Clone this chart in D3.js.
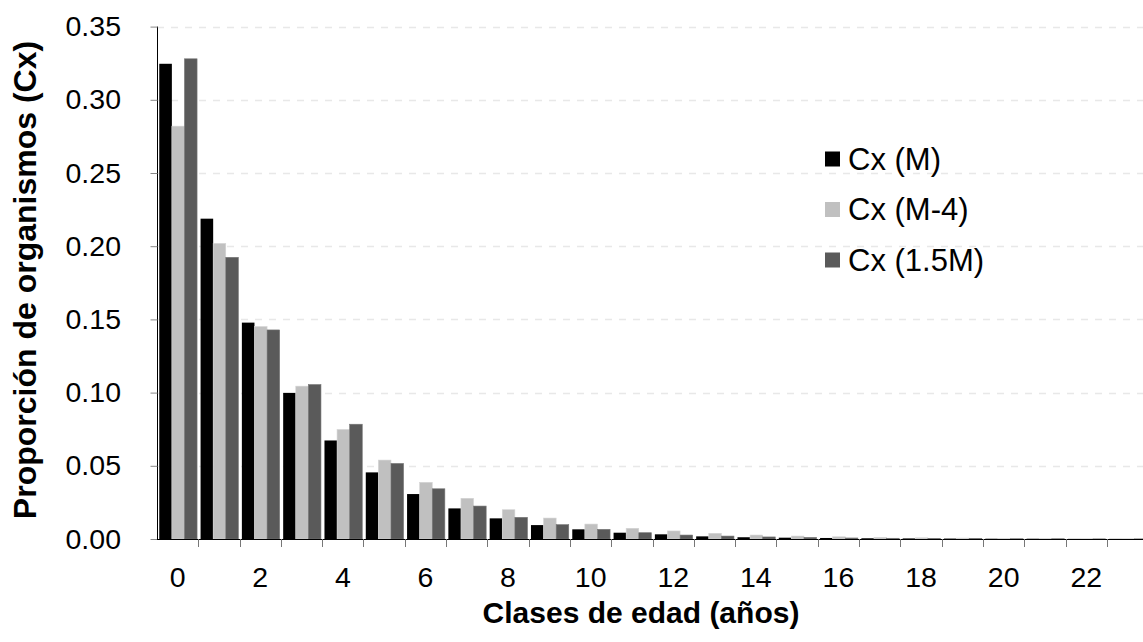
<!DOCTYPE html>
<html><head><meta charset="utf-8">
<script src="https://cdn.jsdelivr.net/npm/d3@7"></script>
<style>body{margin:0;background:#fff}svg{display:block;font-family:Arial,"Liberation Sans",sans-serif}</style>
</head><body>
<svg id="c" width="1143" height="642"></svg>
<script>
const categories = d3.range(0, 24).map(String);
const xTickLabels = ["0","2","4","6","8","10","12","14","16","18","20","22"];
const yTicks = [0,0.05,0.10,0.15,0.20,0.25,0.30,0.35];
const seriesNames = ["Cx (M)","Cx (M-4)","Cx (1.5M)"];
const seriesColors = ["#000000","#c0c0c0","#5a5a5a"];
const cxM    = [0.3246,0.2188,0.1478,0.0998,0.0673,0.0455,0.0307,0.0209,0.0141,0.0095,0.0066,0.0043,0.0032,0.0018,0.0012,0.0009,0.0007,0.0005,0.0004,0.0003,0.0002,0.0002,0.0001,0.0001];
const cxM4   = [0.2820,0.2019,0.1451,0.1044,0.0748,0.0539,0.0387,0.0278,0.0200,0.0143,0.0102,0.0073,0.0055,0.0039,0.0027,0.0020,0.0015,0.0011,0.0008,0.0006,0.0004,0.0003,0.0002,0.0002];
const cx15M  = [0.3280,0.1924,0.1428,0.1055,0.0784,0.0516,0.0343,0.0225,0.0148,0.0098,0.0066,0.0043,0.0027,0.0020,0.0014,0.0011,0.0007,0.0005,0.0004,0.0003,0.0002,0.0002,0.0001,0.0001];
const series = [cxM, cxM4, cx15M];

const svg = d3.select("#c");
const mLeft = 157, mTop = 26.6, mBottom = 539;
const bandW = 41.3;
const x = d3.scaleBand().domain(categories).range([mLeft, mLeft + bandW*categories.length]).padding(0);
const y = d3.scaleLinear().domain([0,0.35]).range([mBottom, mTop]);

// gridlines
svg.append("g").selectAll("line").data(yTicks.filter(d=>d>0)).join("line")
  .attr("x1", mLeft).attr("x2", 1143)
  .attr("y1", d=>Math.round(y(d))+0.5).attr("y2", d=>Math.round(y(d))+0.5)
  .attr("stroke", "#e8e8e8").attr("stroke-width", 1.5).attr("stroke-dasharray", "7,7");

// bars
const inner = x.bandwidth();
const barW = inner*0.305, off = inner*0.055;
series.forEach((vals, si) => {
  svg.append("g").selectAll("rect").data(vals).join("rect")
    .attr("x", (d,i) => x(categories[i]) + off + si*barW)
    .attr("y", d => y(d))
    .attr("width", barW)
    .attr("height", d => mBottom - y(d))
    .attr("fill", seriesColors[si])
    .attr("stroke", si===0 ? "none" : (si===1 ? "#d4d4d4" : "#767676"))
    .attr("stroke-width", 0.6);
});

// y axis
const ya = svg.append("g").attr("transform", `translate(${mLeft},0)`)
  .call(d3.axisLeft(y).tickValues(yTicks).tickFormat(d3.format(".2f")).tickSize(7).tickPadding(29));
ya.select(".domain").attr("stroke", "#000").attr("d", `M0.5,${mTop}V${mBottom}`);
ya.selectAll(".tick line").attr("stroke", "#888").attr("transform","translate(0.5,0)");
ya.selectAll("text").attr("font-size", 28.5).attr("fill", "#000").attr("font-family","Arial,'Liberation Sans',sans-serif");

// x axis
const xa = svg.append("g").attr("transform", `translate(0,${mBottom})`)
  .call(d3.axisBottom(x).tickValues([]).tickSizeOuter(0));
xa.select(".domain").attr("stroke", "#000").attr("d", `M${mLeft},0.5H1143`);
svg.append("g").selectAll("line").data(categories.slice(1)).join("line")
  .attr("x1", d => Math.round(x(d))+0.5).attr("x2", d => Math.round(x(d))+0.5)
  .attr("y1", mBottom).attr("y2", mBottom+8).attr("stroke", "#777");
svg.append("g").selectAll("text").data(xTickLabels).join("text")
  .attr("x", d => x(d) + x.bandwidth()/2).attr("y", 587)
  .attr("text-anchor", "middle").attr("font-size", 28.5).text(d => d);

// titles
svg.append("text").attr("x", 641).attr("y", 623).attr("text-anchor","middle")
  .attr("font-size", 30).attr("font-weight","bold").text("Clases de edad (años)");
svg.append("text").attr("transform", "translate(36,280) rotate(-90)").attr("text-anchor","middle")
  .attr("font-size", 32).attr("font-weight","bold").text("Proporción de organismos (Cx)");

// legend
const lg = svg.append("g");
seriesNames.forEach((n, i) => {
  const cy = 159 + i*50.5;
  lg.append("rect").attr("x", 825).attr("y", cy-7.5).attr("width", 15).attr("height", 15).attr("fill", seriesColors[i]);
  lg.append("text").attr("x", 848).attr("y", cy+10.5).attr("font-size", 31).text(n);
});
</script>
</body></html>
